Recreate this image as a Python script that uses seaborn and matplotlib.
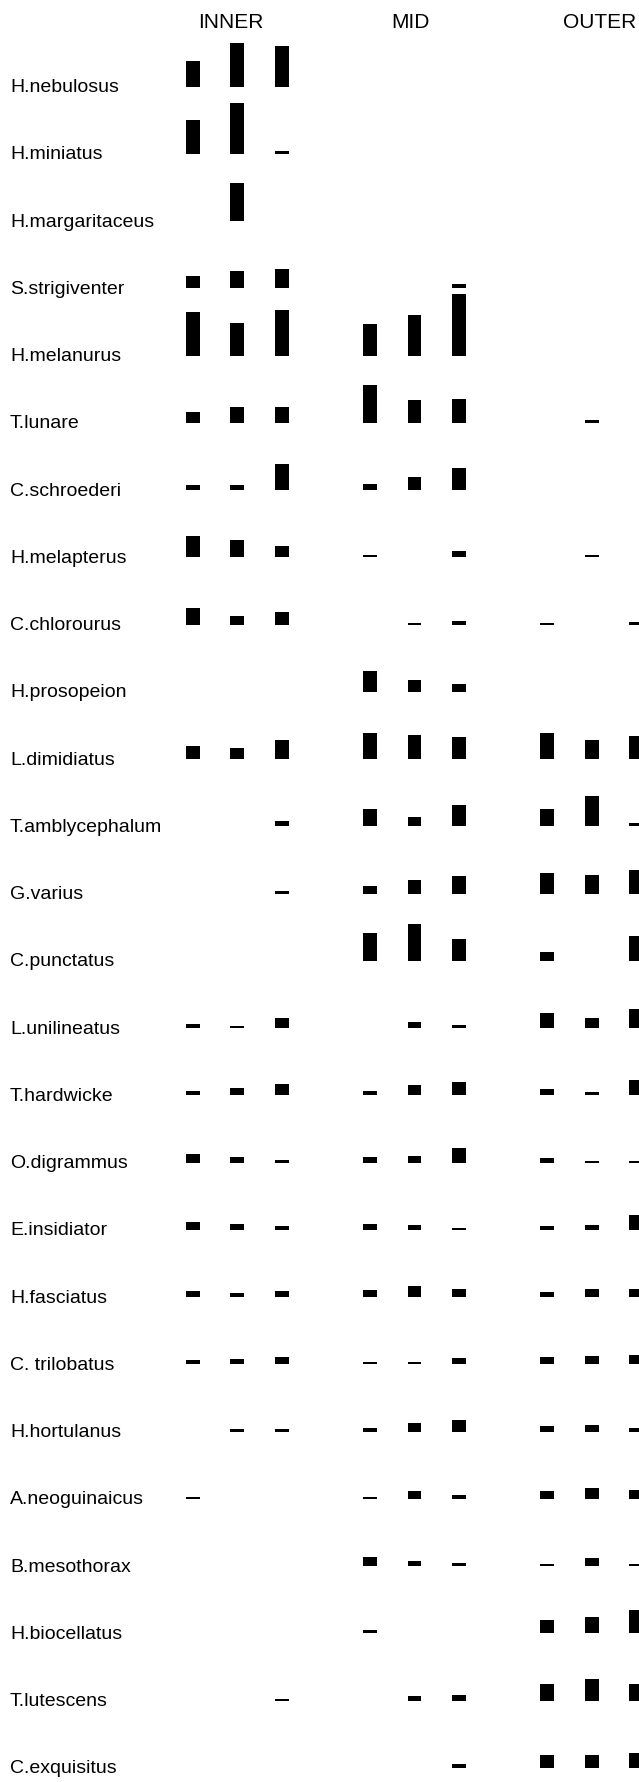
import matplotlib
matplotlib.use("Agg")
import matplotlib.pyplot as plt
import seaborn as sns
import pandas as pd

# ---------------- data ----------------
species = [
    "H.nebulosus", "H.miniatus", "H.margaritaceus", "S.strigiventer", "H.melanurus",
    "T.lunare", "C.schroederi", "H.melapterus", "C.chlorourus", "H.prosopeion",
    "L.dimidiatus", "T.amblycephalum", "G.varius", "C.punctatus", "L.unilineatus",
    "T.hardwicke", "O.digrammus", "E.insidiator", "H.fasciatus", "C. trilobatus",
    "H.hortulanus", "A.neoguinaicus", "B.mesothorax", "H.biocellatus", "T.lutescens",
    "C.exquisitus",
]
zones = ["INNER", "MID", "OUTER"]

inner = [
    (25.5, 44.0, 40.3), (34.3, 51.0, 2.7), (0, 37.7, 0), (12.3, 17.3, 19.3), (43.7, 32.3, 45.7),
    (11.3, 15.7, 16.3), (5.3, 5.3, 26.0), (21.7, 17.7, 11.7), (16.3, 8.7, 13.0), (0, 0, 0),
    (12.7, 11.0, 18.7), (0, 0, 5.3), (0, 0, 2.3), (0, 0, 0), (3.7, 2.3, 9.7),
    (4.7, 7.3, 11.0), (8.7, 5.3, 2.7), (7.7, 6.0, 3.7), (5.7, 4.0, 5.7), (4.0, 5.0, 7.0),
    (0, 2.3, 2.3), (2.0, 0, 0), (0, 0, 0), (0, 0, 0), (0, 0, 2.0),
    (0, 0, 0),
]
mid = [
    (0, 0, 0), (0, 0, 0), (0, 0, 0), (0, 0, 4.3), (31.3, 40.7, 62.0),
    (38.3, 22.7, 24.3), (6.0, 13.3, 21.7), (2.0, 0, 6.3), (0, 1.3, 4.0), (21.0, 12.3, 8.3),
    (26.3, 23.7, 21.7), (17.3, 9.7, 21.0), (8.0, 14.0, 17.3), (28.0, 36.7, 22.0), (0, 6.0, 3.0),
    (4.3, 10.3, 13.3), (5.7, 6.7, 15.0), (6.0, 5.0, 2.3), (7.0, 11.0, 7.7), (2.7, 2.7, 6.3),
    (3.7, 9.0, 12.0), (2.3, 8.3, 4.3), (8.7, 5.3, 2.7), (3.0, 0, 0), (0, 4.7, 6.0),
    (0, 0, 4.0),
]
outer = [
    (0, 0, 0), (0, 0, 0), (0, 0, 0), (0, 0, 0), (0, 0, 0),
    (0, 3.3, 0), (0, 0, 0), (0, 2.0, 0), (1.3, 0, 2.3), (0, 0, 0),
    (25.7, 19.3, 22.7), (17.0, 30.3, 3.7), (20.3, 18.3, 23.7), (9.3, 0, 25.3), (15.3, 9.7, 19.0),
    (6.0, 3.0, 15.7), (5.0, 1.7, 1.7), (4.3, 4.7, 15.3), (4.7, 7.7, 7.7), (7.7, 8.3, 9.0),
    (5.7, 7.0, 4.0), (8.3, 11.0, 8.7), (2.0, 7.7, 2.3), (13.3, 16.0, 23.0), (16.3, 22.0, 16.3),
    (13.3, 13.3, 14.7),
]

# ---------------- long table ----------------
records = []
for sp, a, b, c in zip(species, inner, mid, outer):
    for zone, vals in zip(zones, (a, b, c)):
        for k, v in enumerate(vals, start=1):
            if v > 0:
                records.append({"species": sp, "site": f"{zone}{k}", "value": v})
df = pd.DataFrame(records)

order = ["INNER1", "INNER2", "INNER3", "gap1",
         "MID1", "MID2", "MID3", "gap2",
         "OUTER1", "OUTER2", "OUTER3"]

# ---------------- style ----------------
sns.set_theme(style="white")
plt.rcParams["font.family"] = ["Liberation Sans", "DejaVu Sans"]

W, H = 639, 1783
fig = plt.figure(figsize=(W / 100, H / 100), dpi=100)
fig.patch.set_facecolor("white")

x0_px = 193.0        # centre of first slot
slot_px = 44.3       # slot pitch
xlim = (-x0_px / slot_px, (W - x0_px) / slot_px)
row_top = 87.6       # baseline of first row (px from top)
row_step = 67.25     # row pitch (px)
fs = 14

for i, sp in enumerate(species):
    base = row_top + i * row_step
    ax = fig.add_axes([0, 1 - base / H, 1, row_step / H])
    sub = df[df["species"] == sp]
    if len(sub):
        sns.barplot(data=sub, x="site", y="value", order=order, color="black",
                    saturation=1, width=0.316, errorbar=None, linewidth=0, ax=ax)
    ax.set_xlim(*xlim)
    ax.set_ylim(0, row_step)
    ax.set_axis_off()
    ax.text(xlim[0] + 10 / slot_px, -4.5, sp, ha="left", va="baseline",
            fontsize=fs, color="black", clip_on=False)

# headers
hax = fig.add_axes([0, 1 - 40 / H, 1, 40 / H])
hax.set_xlim(*xlim)
hax.set_ylim(40, 0)
hax.set_axis_off()
for zone, pos in zip(zones, [0.86, 4.9, 9.18]):
    hax.text(pos, 28.3, zone, ha="center", va="baseline", fontsize=15, color="black")

fig.savefig("out.png", dpi=100, facecolor="white")
